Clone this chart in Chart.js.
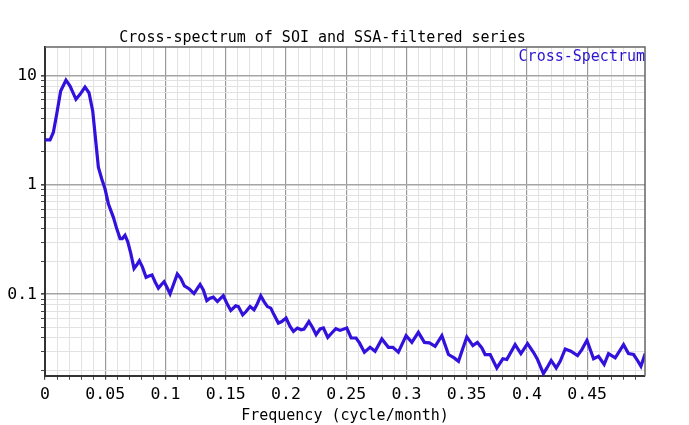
<!DOCTYPE html>
<html>
<head>
<meta charset="utf-8">
<script src="https://cdn.jsdelivr.net/npm/chart.js@4/dist/chart.umd.min.js"></script>
<style>
  html, body { margin: 0; padding: 0; background: #fff; }
  #wrap { width: 689px; height: 425px; position: relative; }
</style>
</head>
<body>
<div id="wrap"><canvas id="c"></canvas></div>
<script>
// Frequency (cycle/month)
const freq = [0.0000,0.0042,0.0069,0.0097,0.0130,0.0174,0.0208,0.0257,0.0291,0.0332,0.0365,0.0396,0.0415,0.0443,0.0471,0.0498,0.0526,0.0546,0.0567,0.0595,0.0623,0.0642,0.0664,0.0687,0.0712,0.0739,0.0761,0.0783,0.0808,0.0839,0.0863,0.0888,0.0913,0.0941,0.0963,0.0988,0.1010,0.1038,0.1065,0.1098,0.1127,0.1157,0.1198,0.1237,0.1273,0.1287,0.1314,0.1343,0.1370,0.1397,0.1431,0.1459,0.1480,0.1509,0.1542,0.1583,0.1605,0.1641,0.1669,0.1702,0.1735,0.1758,0.1791,0.1818,0.1846,0.1874,0.1901,0.1937,0.1965,0.2001,0.2034,0.2062,0.2095,0.2126,0.2150,0.2190,0.2223,0.2250,0.2283,0.2311,0.2347,0.2380,0.2414,0.2449,0.2505,0.2541,0.2582,0.2610,0.2651,0.2698,0.2740,0.2796,0.2850,0.2887,0.2933,0.2997,0.3045,0.3099,0.3149,0.3191,0.3238,0.3294,0.3349,0.3396,0.3432,0.3460,0.3501,0.3551,0.3589,0.3626,0.3653,0.3695,0.3750,0.3800,0.3833,0.3902,0.3950,0.4005,0.4054,0.4088,0.4137,0.4166,0.4201,0.4243,0.4276,0.4318,0.4365,0.4420,0.4456,0.4498,0.4553,0.4594,0.4641,0.4677,0.4733,0.4802,0.4843,0.4885,0.4913,0.4946,0.4982];
// Cross-spectrum values
const spectrum = [2.58,2.58,3.01,4.42,7.2,9.05,8.0,6.05,6.72,7.83,6.95,4.74,2.93,1.45,1.13,0.92,0.672,0.584,0.507,0.398,0.323,0.323,0.346,0.301,0.236,0.172,0.185,0.202,0.178,0.143,0.147,0.150,0.130,0.1135,0.1215,0.130,0.117,0.1007,0.1215,0.153,0.140,0.119,0.1117,0.1015,0.117,0.123,0.1094,0.0875,0.092,0.094,0.0857,0.092,0.097,0.0828,0.071,0.0783,0.0771,0.0648,0.0695,0.0771,0.072,0.080,0.0966,0.0857,0.0771,0.0746,0.0648,0.0545,0.0563,0.0605,0.0508,0.0457,0.0491,0.0474,0.0481,0.0563,0.0491,0.0427,0.0481,0.0491,0.0403,0.0442,0.0484,0.0467,0.0491,0.0398,0.0398,0.0359,0.0295,0.0327,0.0301,0.039,0.0327,0.0327,0.0295,0.0418,0.0363,0.0448,0.0363,0.0359,0.0334,0.0418,0.0281,0.0262,0.0244,0.0301,0.0407,0.0339,0.0363,0.0323,0.0281,0.0281,0.0212,0.0257,0.0253,0.0346,0.0287,0.0353,0.0295,0.0253,0.0188,0.0212,0.0248,0.0212,0.0244,0.0316,0.0301,0.0275,0.0312,0.0379,0.0257,0.0271,0.0228,0.0287,0.0262,0.0346,0.0287,0.0281,0.0253,0.0220,0.0287];
// Axis ranges and tick labels
const xRange = [0, 0.498];
const yRange = [0.018, 18.2];
const xTickLabels = ["0","0.05","0.1","0.15","0.2","0.25","0.3","0.35","0.4","0.45"];
const yTickLabels = ["0.1","1","10"];
const seriesName = "Cross-Spectrum";
const titleText = "Cross-spectrum of SOI and SSA-filtered series";
const xTitle = "Frequency (cycle/month)";

const MONO = "'DejaVu Sans Mono', 'Liberation Mono', monospace";
const LINE_COLOR = '#3311dd';

function isMajorX(v) { return xTickLabels.includes(String(Math.round(v * 100) / 100)); }
function yLabel(v) {
  const s = String(Number(v.toPrecision(6)));
  return yTickLabels.includes(s) ? s : '';
}

const framePlugin = {
  id: 'frame',
  afterDraw(chart) {
    const { ctx, chartArea: a } = chart;
    ctx.save();
    ctx.strokeStyle = '#666';
    ctx.lineWidth = 1.5;
    ctx.beginPath();
    ctx.moveTo(a.left, a.top); ctx.lineTo(a.right, a.top); ctx.lineTo(a.right, a.bottom);
    ctx.stroke();
    ctx.fillStyle = '#2a14d0';
    ctx.font = "15px " + MONO;
    ctx.textAlign = 'right';
    ctx.textBaseline = 'middle';
    ctx.fillText(chart.data.datasets[0].label, a.right, a.top + 10.5);
    ctx.restore();
  }
};

new Chart(document.getElementById('c'), {
  type: 'scatter',
  data: {
    datasets: [{
      label: seriesName,
      data: freq.map((f, i) => ({ x: f, y: spectrum[i] })),
      showLine: true,
      borderColor: LINE_COLOR,
      backgroundColor: LINE_COLOR,
      borderWidth: 3.2,
      pointRadius: 0,
      tension: 0
    }]
  },
  options: {
    responsive: true,
    maintainAspectRatio: false,
    animation: false,
    layout: { padding: { left: 0, right: 44, top: 0, bottom: 0 } },
    plugins: {
      legend: { display: false },
      tooltip: { enabled: false },
      title: {
        display: true,
        text: titleText,
        color: '#000',
        font: { family: MONO, size: 15, weight: 'normal' },
        padding: { top: 29, bottom: 0 }
      }
    },
    scales: {
      x: {
        type: 'linear',
        min: xRange[0], max: xRange[1],
        afterBuildTicks(scale) {
          const t = [];
          for (let i = 0; i <= 49; i++) t.push({ value: i / 100 });
          scale.ticks = t;
        },
        afterFit(scale) { scale.height = 49.3; },
        ticks: {
          autoSkip: false, maxRotation: 0, padding: 5,
          color: '#000',
          font: { family: MONO, size: 16.5 },
          callback(v) { return isMajorX(v) ? String(Math.round(v * 100) / 100) : ''; }
        },
        grid: {
          color: (c) => isMajorX(c.tick.value) ? '#999' : '#e2e2e2',
          lineWidth: (c) => isMajorX(c.tick.value) ? 1.2 : 1,
          tickColor: '#444', tickLength: 4
        },
        border: { color: '#333', width: 2 },
        title: {
          display: true, text: xTitle, color: '#000',
          font: { family: MONO, size: 15 },
          padding: { top: 4, bottom: 0 }
        }
      },
      y: {
        type: 'logarithmic',
        min: yRange[0], max: yRange[1],
        afterBuildTicks(scale) {
          const t = [];
          for (let d = -2; d <= 1; d++) {
            for (let m = 1; m <= 9; m++) {
              const v = Number((m * Math.pow(10, d)).toPrecision(6));
              if (v >= yRange[0] && v <= yRange[1]) t.push({ value: v });
            }
          }
          scale.ticks = t;
        },
        afterFit(scale) { scale.width = 45; },
        ticks: {
          autoSkip: false, padding: 4,
          color: '#000',
          font: { family: MONO, size: 16.5 },
          callback(v) { return yLabel(v); }
        },
        grid: {
          color: (c) => yLabel(c.tick.value) ? '#a5a5a5' : '#e2e2e2',
          lineWidth: (c) => yLabel(c.tick.value) ? 1.6 : 1,
          tickColor: '#444', tickLength: 4
        },
        border: { color: '#333', width: 2 }
      }
    }
  },
  plugins: [framePlugin]
});
</script>
</body>
</html>
